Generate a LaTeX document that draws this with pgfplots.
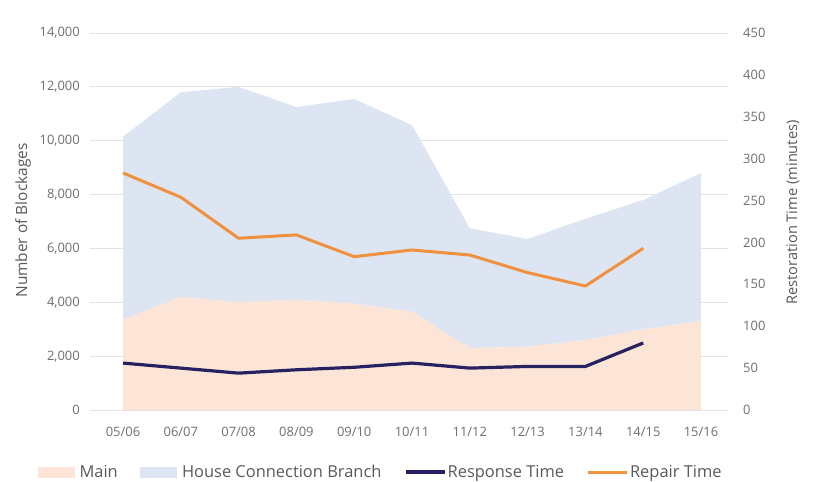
\documentclass[border=0pt]{standalone}
\usepackage{fontspec}
\setmainfont{Open Sans}
\usepackage{pgfplots}
\pgfplotsset{compat=1.18}
\definecolor{peach}{HTML}{FCE5D6}
\definecolor{lblue}{HTML}{DDE5F2}
\definecolor{navy}{HTML}{262262}
\definecolor{orng}{HTML}{F0913F}
\definecolor{gridgray}{HTML}{E3E3E3}
\definecolor{tickgray}{HTML}{6E6E6E}
\definecolor{labgray}{HTML}{595959}
\begin{document}
\begin{tikzpicture}
\path[use as bounding box] (-90bp,-72bp) rectangle (723bp,410bp);
\begin{axis}[
  at={(0,0)}, anchor=south west, scale only axis,
  width=638bp, height=377bp,
  xmin=-0.571, xmax=10.467, ymin=0, ymax=14000,
  axis line style={draw=none}, major tick length=0pt,
  xtick={0,...,10},
  xticklabels={05/06,06/07,07/08,08/09,09/10,10/11,11/12,12/13,13/14,14/15,15/16},
  ytick={0,2000,...,14000},
  scaled y ticks=false,
  ymajorgrids, grid style={gridgray, line width=0.9bp},
  tick label style={font=\fontsize{13}{15}\selectfont, text=tickgray},
  yticklabel style={anchor=east, inner sep=0pt, xshift=-10bp, /pgf/number format/.cd, fixed, 1000 sep={,}, assume math mode=true},
  xticklabel style={anchor=north, inner sep=0pt, yshift=-17bp},
  ylabel={Number of Blockages},
  ylabel style={at={([xshift=-67bp,yshift=1bp]rel axis cs:0,0.5)}, anchor=center, inner sep=0pt, font=\fontsize{15.5}{17}\selectfont, text=labgray},
  stack plots=y,
]
\addplot[fill=peach, draw=none] coordinates {
(0,3350) (1,4200) (2,4000) (3,4100) (4,3950) (5,3650) (6,2300) (7,2350) (8,2600) (9,3000) (10,3300)
} \closedcycle;
\addplot[fill=lblue, draw=none] coordinates {
(0,6800) (1,7600) (2,8000) (3,7150) (4,7600) (5,6930) (6,4450) (7,4000) (8,4500) (9,4800) (10,5500)
} \closedcycle;
\end{axis}
\begin{axis}[
  at={(0,0)}, anchor=south west, scale only axis,
  width=638bp, height=377bp,
  xmin=-0.571, xmax=10.467, ymin=0, ymax=450,
  hide x axis,
  axis y line*=right,
  axis line style={draw=none}, major tick length=0pt,
  ytick={0,50,...,450},
  tick label style={font=\fontsize{13}{15}\selectfont, text=tickgray},
  yticklabel style={anchor=west, inner sep=0pt, xshift=15bp, /pgf/number format/assume math mode=true},
  ylabel={Restoration Time (minutes)},
  ylabel style={at={([xshift=65bp,yshift=9bp]rel axis cs:1,0.5)}, anchor=center, inner sep=0pt, rotate=0, font=\fontsize{14.7}{17}\selectfont, text=labgray},
  legend columns=4,
  legend style={at={(rel axis cs:0.4553,0)}, anchor=center, yshift=-62bp, draw=none, fill=none,
    font=\fontsize{16.5}{18}\selectfont, text=labgray,
    nodes={inner xsep=1.5bp, inner ysep=1bp},
    /tikz/every even column/.append style={column sep=21bp}},
]
\addlegendimage{legend image code/.code={\fill[peach] (0bp,-5bp) rectangle (36bp,5bp); \path[draw=none,fill=none] (0bp,0bp) -- (40bp,0bp);}}
\addlegendentry{Main}
\addlegendimage{legend image code/.code={\fill[lblue] (0bp,-5bp) rectangle (36bp,5bp); \path[draw=none,fill=none] (0bp,0bp) -- (40bp,0bp);}}
\addlegendentry{House Connection Branch}
\addplot[navy, line width=3.2bp, line join=round, legend image code/.code={\draw[navy, line width=3.2bp] (0bp,0bp) -- (39bp,0bp);}] coordinates {
(0,56) (1,50) (2,44) (3,48) (4,51) (5,56) (6,50) (7,52) (8,52) (9,80)
};
\addlegendentry{Response Time}
\addplot[orng, line width=3bp, line join=round, legend image code/.code={\draw[orng, line width=3bp] (0bp,0bp) -- (39bp,0bp);}] coordinates {
(0,283) (1,254) (2,205) (3,209) (4,183) (5,191) (6,185) (7,164) (8,148) (9,193)
};
\addlegendentry{Repair Time}
\end{axis}
\end{tikzpicture}
\end{document}
